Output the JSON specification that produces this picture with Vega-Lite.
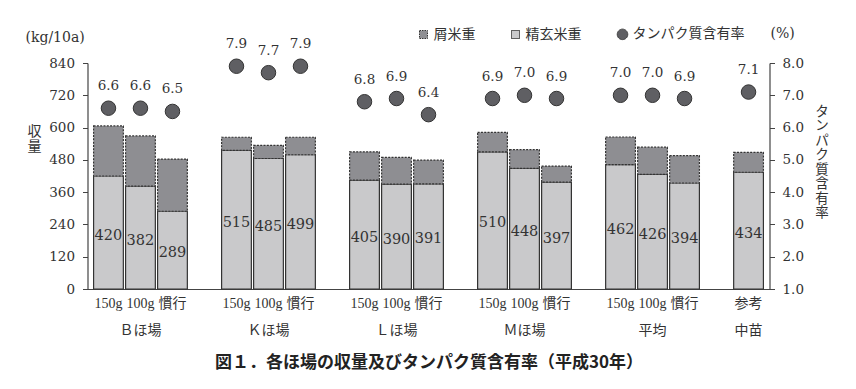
{
  "$schema": "https://vega.github.io/schema/vega-lite/v6.json",
  "width": 682,
  "height": 226,
  "autosize": {"type": "none"},
  "padding": {"left": 87.5, "top": 63, "right": 86.5, "bottom": 100},
  "background": "white",
  "title": {"text": "(kg/10a)", "anchor": "start", "frame": "group", "dx": -62, "offset": 0, "dy": 25, "baseline": "middle", "font": "DejaVu Serif", "fontSize": 14, "fontWeight": "normal", "color": "#333"},
  "data": {"values": [
    {"slot": "Ｂほ場|150g", "精玄米重": 420, "屑米重": 186, "タンパク": 6.6},
    {"slot": "Ｂほ場|100g", "精玄米重": 382, "屑米重": 187, "タンパク": 6.6},
    {"slot": "Ｂほ場|慣行", "精玄米重": 289, "屑米重": 194, "タンパク": 6.5},
    {"slot": "Ｋほ場|150g", "精玄米重": 515, "屑米重": 49, "タンパク": 7.9},
    {"slot": "Ｋほ場|100g", "精玄米重": 485, "屑米重": 49, "タンパク": 7.7},
    {"slot": "Ｋほ場|慣行", "精玄米重": 499, "屑米重": 65, "タンパク": 7.9},
    {"slot": "Ｌほ場|150g", "精玄米重": 405, "屑米重": 105, "タンパク": 6.8},
    {"slot": "Ｌほ場|100g", "精玄米重": 390, "屑米重": 99, "タンパク": 6.9},
    {"slot": "Ｌほ場|慣行", "精玄米重": 391, "屑米重": 88, "タンパク": 6.4},
    {"slot": "Ｍほ場|150g", "精玄米重": 510, "屑米重": 72, "タンパク": 6.9},
    {"slot": "Ｍほ場|100g", "精玄米重": 448, "屑米重": 70, "タンパク": 7.0},
    {"slot": "Ｍほ場|慣行", "精玄米重": 397, "屑米重": 60, "タンパク": 6.9},
    {"slot": "平均|150g", "精玄米重": 462, "屑米重": 103, "タンパク": 7.0},
    {"slot": "平均|100g", "精玄米重": 426, "屑米重": 101, "タンパク": 7.0},
    {"slot": "平均|慣行", "精玄米重": 394, "屑米重": 102, "タンパク": 6.9},
    {"slot": "中苗|参考", "精玄米重": 434, "屑米重": 74, "タンパク": 7.1}
  ]},
  "encoding": {
    "x": {
      "field": "slot", "type": "nominal", "sort": null,
      "scale": {
        "domain": ["Ｂほ場|150g", "Ｂほ場|100g", "Ｂほ場|慣行", "sp1", "Ｋほ場|150g", "Ｋほ場|100g", "Ｋほ場|慣行", "sp2", "Ｌほ場|150g", "Ｌほ場|100g", "Ｌほ場|慣行", "sp3", "Ｍほ場|150g", "Ｍほ場|100g", "Ｍほ場|慣行", "sp4", "平均|150g", "平均|100g", "平均|慣行", "sp5", "中苗|参考"],
        "paddingInner": 0.07, "paddingOuter": 0.19
      },
      "axis": {
        "labelExpr": "indexof(datum.value,'|') < 0 ? '' : ((indexof(datum.value,'100g') >= 0 || indexof(datum.value,'参考') >= 0) ? [split(datum.value,'|')[1], split(datum.value,'|')[0]] : split(datum.value,'|')[1])",
        "labelAngle": 0, "ticks": false, "labelOverlap": false, "labelPadding": 7,
        "labelFont": "Liberation Serif, Noto Sans CJK JP", "labelFontSize": 14, "labelLineHeight": 27, "labelColor": "#333",
        "domainColor": "#444", "domainWidth": 1.2,
        "title": "図１．各ほ場の収量及びタンパク質含有率（平成30年）",
        "titleFont": "Noto Sans CJK JP", "titleFontSize": 17, "titleFontWeight": "bold", "titleColor": "#222",
        "titleY": 73, "titleBaseline": "middle"
      }
    }
  },
  "layer": [
    {
      "transform": [{"fold": ["精玄米重", "屑米重"], "as": ["part", "yield"]}],
      "mark": {"type": "bar", "stroke": "#333", "strokeWidth": 1.2},
      "encoding": {
        "y": {
          "field": "yield", "type": "quantitative", "stack": "zero",
          "scale": {"domain": [0, 840], "nice": false},
          "axis": {
            "orient": "left", "values": [0, 120, 240, 360, 480, 600, 720, 840], "grid": false,
            "tickSize": 5, "tickColor": "#444", "domainColor": "#444", "domainWidth": 1.2,
            "labelFont": "DejaVu Serif", "labelFontSize": 13.5, "labelColor": "#333", "labelPadding": 8,
            "title": ["収", "量"], "titleAngle": 0, "titleX": -53.5, "titleY": 68, "titleAlign": "center", "titleBaseline": "middle",
            "titleFont": "Noto Sans CJK JP", "titleFontSize": 14, "titleFontWeight": "normal", "titleLineHeight": 15, "titleColor": "#333"
          }
        },
        "fill": {
          "field": "part", "type": "nominal",
          "scale": {"domain": ["屑米重", "精玄米重", "タンパク質含有率"], "range": ["#8e8e92", "#c9c9cb", "#5f5f63"]},
          "legend": {
            "orient": "none", "legendX": 329, "legendY": -36, "direction": "horizontal",
            "title": "(%)", "titleOrient": "right", "titlePadding": 26,
            "titleFont": "DejaVu Serif", "titleFontSize": 14, "titleFontWeight": "normal", "titleColor": "#333",
            "columnPadding": 33, "padding": 0, "labelOffset": 3,
            "labelFont": "Noto Sans CJK JP", "labelFontSize": 14, "labelColor": "#333",
            "symbolStrokeColor": "#333", "symbolStrokeWidth": 1,
            "encode": {
              "symbols": {
                "update": {
                  "shape": {"signal": "datum.value === 'タンパク質含有率' ? 'circle' : 'square'"},
                  "size": {"signal": "datum.value === 'タンパク質含有率' ? 110 : 64"},
                  "strokeDash": {"signal": "datum.value === '屑米重' ? [1.5, 1] : [1, 0]"}
                }
              }
            }
          }
        },
        "strokeDash": {
          "field": "part", "type": "nominal",
          "scale": {"domain": ["精玄米重", "屑米重"], "range": [[1, 0], [2, 1.3]]},
          "legend": null
        },
        "order": {"field": "part", "sort": "descending"}
      }
    },
    {
      "mark": {"type": "text", "font": "DejaVu Serif", "fontSize": 14.5, "color": "#333", "baseline": "middle", "dy": 3},
      "encoding": {
        "y": {"field": "精玄米重", "type": "quantitative", "scale": {"domain": [0, 1680], "nice": false}, "axis": null},
        "text": {"field": "精玄米重", "type": "quantitative"}
      }
    },
    {
      "mark": {"type": "point", "shape": "circle", "filled": true, "size": 210, "stroke": "#333", "strokeWidth": 1, "opacity": 1},
      "encoding": {
        "y": {
          "field": "タンパク", "type": "quantitative",
          "scale": {"domain": [1, 8], "nice": false, "zero": false},
          "axis": {
            "orient": "right", "values": [1, 2, 3, 4, 5, 6, 7, 8], "format": ".1f", "grid": false,
            "tickSize": 5, "tickColor": "#444", "domainColor": "#444", "domainWidth": 1.2,
            "labelFont": "DejaVu Serif", "labelFontSize": 13.5, "labelColor": "#333", "labelPadding": 7.5,
            "title": ["タ", "ン", "パ", "ク", "質", "含", "有", "率"], "titleAngle": 0, "titleX": 52, "titleY": 48,
            "titleAlign": "center", "titleBaseline": "middle",
            "titleFont": "Noto Sans CJK JP", "titleFontSize": 13.5, "titleFontWeight": "normal", "titleLineHeight": 14.5, "titleColor": "#333"
          }
        },
        "fill": {"datum": "タンパク質含有率"}
      }
    },
    {
      "mark": {"type": "text", "font": "DejaVu Serif", "fontSize": 13.5, "color": "#333", "baseline": "middle", "dy": -22},
      "encoding": {
        "y": {"field": "タンパク", "type": "quantitative", "scale": {"domain": [1, 8], "nice": false, "zero": false}, "axis": null},
        "text": {"field": "タンパク", "type": "quantitative", "format": ".1f"}
      }
    }
  ],
  "resolve": {"scale": {"y": "independent"}, "axis": {"y": "independent"}},
  "config": {"view": {"stroke": null}}
}
